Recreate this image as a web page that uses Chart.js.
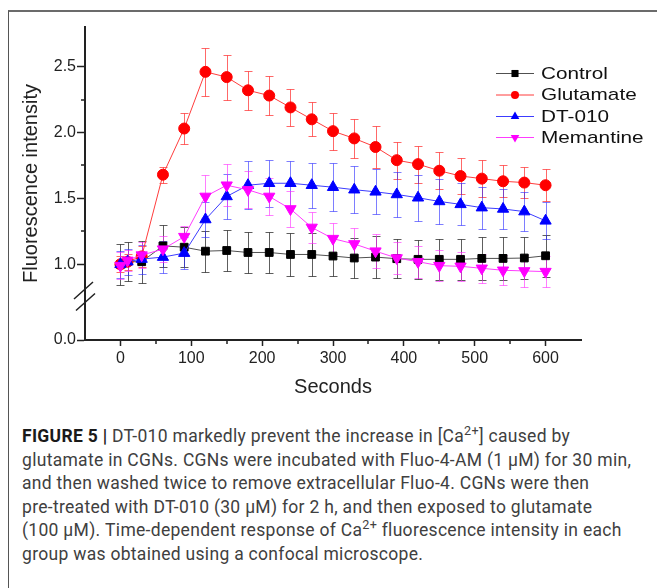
<!DOCTYPE html>
<html>
<head>
<meta charset="utf-8">
<script src="https://cdn.jsdelivr.net/npm/chart.js@4/dist/chart.umd.min.js"></script>
<style>
  html, body { margin: 0; padding: 0; background: #fff; }
  body { width: 657px; height: 588px; position: relative; overflow: hidden; }
  #frame { position: absolute; left: 8px; top: 10px; right: -5px; bottom: -5px;
           border-top: 2px solid #6b6b6b; border-left: 1px solid #555; }
  #chart { position: absolute; left: 0; top: 0; }
  #caption { position: absolute; left: 22px; top: 425px; font-family: Roboto, "Liberation Sans", sans-serif;
             font-size: 17.5px; line-height: 23.6px; color: #404040; white-space: nowrap; letter-spacing: 0.3px; }
  #caption b { color: #1a1a1a; }
  #caption sup { font-size: 0.72em; line-height: 0; vertical-align: 0.55em; }
</style>
</head>
<body>
<div id="frame"></div>
<canvas id="chart" width="657" height="399"></canvas>
<div id="caption">
  <div><b>FIGURE 5 |</b> DT-010 markedly prevent the increase in [Ca<sup>2+</sup>] caused by</div>
  <div>glutamate in CGNs. CGNs were incubated with Fluo-4-AM (1 μM) for 30 min,</div>
  <div>and then washed twice to remove extracellular Fluo-4. CGNs were then</div>
  <div>pre-treated with DT-010 (30 μM) for 2 h, and then exposed to glutamate</div>
  <div>(100 μM). Time-dependent response of Ca<sup>2+</sup> fluorescence intensity in each</div>
  <div>group was obtained using a confocal microscope.</div>
</div>
<script>
// ---- data ----
const times = [0, 10, 30, 60, 90, 120, 150, 180, 210, 240, 270, 300, 330, 360, 390, 420, 450, 480, 510, 540, 570, 600];

const control    = [1.00, 1.02, 1.02, 1.14, 1.13, 1.10, 1.105, 1.09, 1.09, 1.075, 1.075, 1.063, 1.048, 1.055, 1.043, 1.038, 1.038, 1.038, 1.045, 1.045, 1.048, 1.065];
const controlErr = [0.155, 0.15, 0.16, 0.16, 0.15, 0.155, 0.155, 0.155, 0.155, 0.16, 0.16, 0.15, 0.15, 0.16, 0.15, 0.15, 0.155, 0.155, 0.16, 0.16, 0.16, 0.16];

const glutamate    = [1.00, 1.02, 1.06, 1.68, 2.03, 2.46, 2.42, 2.32, 2.28, 2.19, 2.10, 2.01, 1.955, 1.89, 1.79, 1.76, 1.71, 1.67, 1.65, 1.63, 1.62, 1.60];
const glutamateErr = [0.06, 0.06, 0.08, 0.06, 0.12, 0.18, 0.17, 0.15, 0.15, 0.14, 0.13, 0.14, 0.15, 0.16, 0.14, 0.14, 0.14, 0.14, 0.14, 0.12, 0.12, 0.12];

const dt010    = [1.00, 1.02, 1.04, 1.055, 1.085, 1.34, 1.515, 1.60, 1.615, 1.615, 1.60, 1.585, 1.566, 1.55, 1.53, 1.505, 1.477, 1.455, 1.43, 1.42, 1.40, 1.33];
const dt010Err = [0.10, 0.10, 0.11, 0.12, 0.12, 0.13, 0.17, 0.18, 0.18, 0.17, 0.17, 0.18, 0.18, 0.17, 0.17, 0.175, 0.17, 0.16, 0.16, 0.15, 0.15, 0.14];

const memantine    = [0.99, 1.03, 1.07, 1.115, 1.21, 1.515, 1.60, 1.565, 1.515, 1.42, 1.28, 1.195, 1.155, 1.10, 1.048, 1.02, 0.99, 0.985, 0.97, 0.955, 0.95, 0.945];
const memantineErr = [0.10, 0.08, 0.10, 0.10, 0.08, 0.16, 0.16, 0.14, 0.14, 0.14, 0.12, 0.12, 0.12, 0.13, 0.12, 0.12, 0.12, 0.11, 0.11, 0.115, 0.12, 0.12];

const xTicks = [0, 100, 200, 300, 400, 500, 600];
const xMinor = [50, 150, 250, 350, 450, 550];
const yTicks = [0.0, 1.0, 1.5, 2.0, 2.5];
const yMinor = [1.25, 1.75, 2.25];

// axis break: values below Y_BREAK squeezed into the bottom strip
const Y_BREAK = 0.76;
const BREAK_FRAC = 0.1406;

const FONT = '"Liberation Sans", Arial, sans-serif';

// y scale with a broken (compressed) section between 0 and 1
class BrokenScale extends Chart.LinearScale {
  getPixelForValue(v) {
    if (v === null || v === undefined) return NaN;
    const f = v >= Y_BREAK
      ? BREAK_FRAC + (v - Y_BREAK) / (this.max - Y_BREAK) * (1 - BREAK_FRAC)
      : v / Y_BREAK * BREAK_FRAC;
    return this.bottom - f * (this.bottom - this.top);
  }
  getValueForPixel(px) {
    const f = (this.bottom - px) / (this.bottom - this.top);
    return f >= BREAK_FRAC
      ? Y_BREAK + (f - BREAK_FRAC) / (1 - BREAK_FRAC) * (this.max - Y_BREAK)
      : f / BREAK_FRAC * Y_BREAK;
  }
}
BrokenScale.id = 'broken';
BrokenScale.defaults = Chart.LinearScale.defaults;
Chart.register(BrokenScale);

const pts = (arr) => times.map((t, i) => ({ x: t, y: arr[i] }));

function series(label, arr, err, line, fill, style, radius, rot, errColor, order) {
  return {
    label, data: pts(arr), errors: err, errColor, order,
    borderColor: line, borderWidth: 1, tension: 0,
    pointStyle: style, pointRadius: radius, pointRotation: rot,
    pointBackgroundColor: fill, pointBorderColor: fill, pointBorderWidth: 1,
    pointHoverRadius: radius
  };
}

const datasets = [
  series('Control',   control,   controlErr,   '#505050', '#000000', 'rect',     5.5, 0,   'rgba(40,40,40,0.75)',  3),
  series('Glutamate', glutamate, glutamateErr, '#ff3c3c', '#ff0000', 'circle',   5.5, 0,   'rgba(255,40,40,0.7)',  2),
  series('DT-010',    dt010,     dt010Err,     '#3c3cff', '#0000ff', 'triangle', 6.5, 0,   'rgba(40,40,255,0.6)',  1),
  series('Memantine', memantine, memantineErr, '#ff3cff', '#ff00ff', 'triangle', 6.5, 180, 'rgba(255,40,255,0.6)', 0)
];

// error bars, drawn under the markers
const errorBars = {
  id: 'errorBars',
  beforeDatasetsDraw(chart) {
    const ctx = chart.ctx, xs = chart.scales.x, ys = chart.scales.y;
    chart.data.datasets.forEach(ds => {
      ctx.save();
      ctx.strokeStyle = ds.errColor;
      ctx.lineWidth = 1;
      ds.data.forEach((p, j) => {
        const e = ds.errors[j];
        const x = Math.round(xs.getPixelForValue(p.x)) + 0.5;
        const y1 = Math.round(ys.getPixelForValue(p.y - e)) + 0.5;
        const y2 = Math.round(ys.getPixelForValue(p.y + e)) + 0.5;
        ctx.beginPath();
        ctx.moveTo(x, y1); ctx.lineTo(x, y2);
        ctx.moveTo(x - 4, y1); ctx.lineTo(x + 4, y1);
        ctx.moveTo(x - 4, y2); ctx.lineTo(x + 4, y2);
        ctx.stroke();
      });
      ctx.restore();
    });
  }
};

// minor ticks, axis break marks and the legend
const extras = {
  id: 'extras',
  afterDraw(chart) {
    const ctx = chart.ctx, xs = chart.scales.x, ys = chart.scales.y;
    const area = chart.chartArea;
    ctx.save();
    ctx.strokeStyle = '#222';
    ctx.lineWidth = 1.5;
    ctx.beginPath();
    xMinor.forEach(v => {
      const x = Math.round(xs.getPixelForValue(v));
      ctx.moveTo(x, area.bottom); ctx.lineTo(x, area.bottom + 4);
    });
    yMinor.forEach(v => {
      const y = Math.round(ys.getPixelForValue(v));
      ctx.moveTo(area.left - 4, y); ctx.lineTo(area.left, y);
    });
    ctx.stroke();

    // break "//"
    const by = ys.getPixelForValue(Y_BREAK), bx = area.left;
    ctx.lineWidth = 1.5;
    ctx.beginPath();
    [[-1.5, -5.5], [0.5, 6]].forEach(([dx, dy]) => {
      ctx.moveTo(bx + dx - 9.5, by + dy + 8.5);
      ctx.lineTo(bx + dx + 9.5, by + dy - 8.5);
    });
    ctx.stroke();

    // legend
    const lx0 = 496, lx1 = 534, mx = 515, tx = 541;
    const rowY = [73, 94.5, 116, 137];
    chart.data.datasets.forEach((ds, i) => {
      const y = rowY[i];
      ctx.strokeStyle = ds.borderColor;
      ctx.lineWidth = 1;
      ctx.beginPath();
      ctx.moveTo(lx0, y + 0.5); ctx.lineTo(lx1, y + 0.5);
      ctx.stroke();
      ctx.fillStyle = ds.pointBackgroundColor;
      ctx.strokeStyle = ds.pointBackgroundColor;
      Chart.helpers.drawPoint(ctx, {
        pointStyle: ds.pointStyle,
        radius: ds.pointStyle === 'circle' ? 4 : 5,
        rotation: ds.pointRotation,
        borderWidth: 0
      }, mx, y + 0.5);
      ctx.save();
      ctx.translate(tx, y);
      ctx.scale(1.22, 1);
      ctx.fillStyle = '#111';
      ctx.font = '17px ' + FONT;
      ctx.textBaseline = 'middle';
      ctx.fillText(ds.label, 0, 1);
      ctx.restore();
    });
    ctx.restore();
  }
};

new Chart(document.getElementById('chart'), {
  type: 'line',
  data: { datasets },
  options: {
    responsive: false,
    animation: false,
    layout: { padding: { top: 27, right: 76, bottom: 0, left: 0 } },
    plugins: { legend: { display: false }, tooltip: { enabled: false } },
    scales: {
      x: {
        type: 'linear', min: -50, max: 650,
        afterFit: s => { s.height = 59; },
        afterBuildTicks: s => { s.ticks = xTicks.map(v => ({ value: v })); },
        grid: { drawOnChartArea: false, tickLength: 6, tickWidth: 1.5, tickColor: '#222' },
        border: { color: '#222', width: 2 },
        ticks: { autoSkip: false, maxRotation: 0, padding: 3, color: '#222',
                 font: { family: FONT, size: 16 }, callback: v => String(v) },
        title: { display: true, text: 'Seconds', color: '#222',
                 font: { family: FONT, size: 20 }, padding: { top: 0, bottom: 0 } }
      },
      y: {
        type: 'broken', min: 0, max: 2.8,
        afterFit: s => { s.width = 85; },
        afterBuildTicks: s => { s.ticks = yTicks.map(v => ({ value: v })); },
        grid: { drawOnChartArea: false, tickLength: 8, tickWidth: 1.5, tickColor: '#222' },
        border: { color: '#222', width: 2 },
        ticks: { autoSkip: false, padding: 1, color: '#222',
                 font: { family: FONT, size: 16 }, callback: v => Number(v).toFixed(1) },
        title: { display: true, text: 'Fluorescence intensity', color: '#222',
                 font: { family: FONT, size: 20 }, padding: { top: 19, bottom: 0 } }
      }
    }
  },
  plugins: [errorBars, extras]
});
</script>
</body>
</html>
